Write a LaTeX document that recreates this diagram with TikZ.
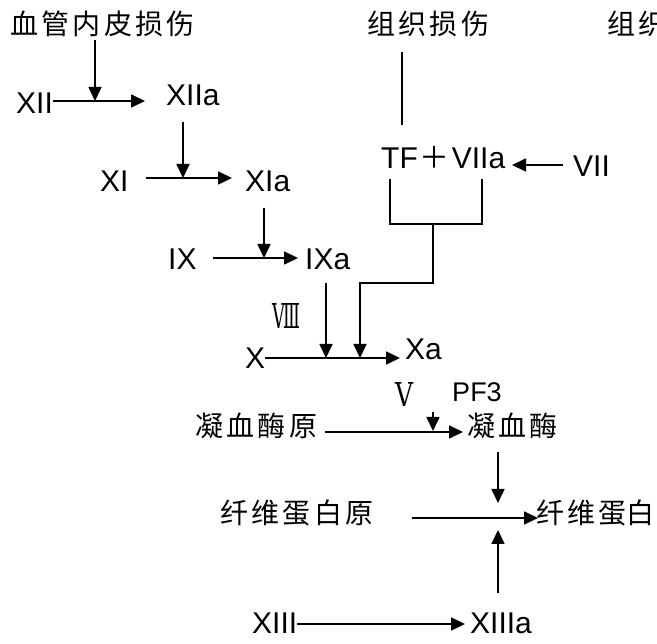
\documentclass[tikz,border=0pt]{standalone}
\usepackage{fontspec}
\setmainfont{Liberation Sans}
\newfontfamily\cjk[LetterSpace=12]{Noto Sans CJK SC}
\newfontfamily\cjkplain{Noto Sans CJK SC}
\newfontfamily\rmn{DejaVu Serif}
\usetikzlibrary{arrows.meta}
\begin{document}
\begin{tikzpicture}[x=1pt,y=-1pt,
  lat/.style={inner sep=0pt, anchor=west, font=\fontsize{30}{31}\selectfont},
  latsmall/.style={inner sep=0pt, font=\fontsize{27}{28}\selectfont},
  zh/.style={inner sep=0pt, anchor=west, font=\fontsize{28}{29}\selectfont\cjk},
  rnum/.style={inner sep=0pt, font=\rmn},
  ln/.style={line width=1.7pt},
  arr/.style={line width=1.7pt, -{Triangle[length=14pt,width=13pt]}}]
\clip (0,0) rectangle (657,644);
% text nodes
\node[zh] (vessel) at (10,24) {血管内皮损伤};
\node[zh] (tissue) at (367,24) {组织损伤};
\node[zh] (tissue2) at (607,24) {组织};
\node[lat] (XII) at (16,103) {XII};
\node[lat] (XIIa) at (166,95) {XIIa};
\node[lat] (XI) at (100,181) {XI};
\node[lat] (XIa) at (245,181) {XIa};
\node[lat] (IX) at (168,259) {IX};
\node[lat] (IXa) at (305,259) {IXa};
\node[lat] (TF) at (381,158) {TF\hspace{2pt}{\cjkplain ＋}\hspace{2pt}VIIa};
\node[lat] (VII) at (573,166) {VII};
\node[rnum] (VIII) at (286,316) {\resizebox{28pt}{25pt}{Ⅷ}};
\node[lat] (X) at (245,358) {X};
\node[lat] (Xa) at (405,349) {Xa};
\node[rnum] (V) at (404,395) {\resizebox{18pt}{24pt}{Ⅴ}};
\node[latsmall] (PF3) at (477,392) {PF3};
\node[zh] (pro) at (195,426) {凝血酶原};
\node[zh] (thr) at (467,426) {凝血酶};
\node[zh] (fgn) at (220,513) {纤维蛋白原};
\node[zh] (fib) at (536,513) {纤维蛋{\cjkplain 白}};
\node[lat] (XIII) at (252,623) {XIII};
\node[lat] (XIIIa) at (470,623) {XIIIa};
% junction coordinates
\coordinate (j1) at (95,101);
\coordinate (e1) at (145,101);
\coordinate (j2) at (183,178);
\coordinate (e2) at (232,178);
\coordinate (j3) at (264,258);
\coordinate (e3) at (298,258);
\coordinate (j4) at (326,358);
\coordinate (t1) at (402,125);
\coordinate (jv) at (512,165);
\coordinate (bl) at (390,224);
\coordinate (br) at (482,224);
\coordinate (bs) at (433,224);
\coordinate (bk) at (433,283);
\coordinate (j5) at (360,358);
\coordinate (e5) at (400,358);
\coordinate (j6s) at (433,412);
\coordinate (j6) at (433,431);
\coordinate (p1) at (325,432);
\coordinate (p2) at (463,432);
\coordinate (d1) at (498,452);
\coordinate (d2) at (498,503);
\coordinate (f1) at (412,518);
\coordinate (f2) at (538,518);
\coordinate (u1) at (498,593);
\coordinate (u2) at (498,530);
\coordinate (x2) at (465,624);
% connectors
\draw[arr, shorten <=3pt] (vessel.south -| j1) -- (j1);
\draw[arr] (XII.east |- j1) -- (e1);
\draw[arr, shorten <=16pt] (XIIa.south -| j2) -- (j2);
\draw[arr, shorten <=17pt] (XI.east |- j2) -- (e2);
\draw[arr, shorten <=16pt] (XIa.south -| j3) -- (j3);
\draw[arr, shorten <=16pt] (IX.east |- j3) -- (e3);
\draw[arr, shorten <=13pt] (IXa.south -| j4) -- (j4);
\draw[ln, shorten <=15pt] (tissue.south -| t1) -- (t1);
\draw[arr, shorten <=10pt] (VII.west |- jv) -- (jv);
\draw[ln, shorten <=10pt, shorten >=10pt] (TF.south -| bl) -- (bl) -- (br) -- (TF.south -| br);
\draw[arr] (bs) -- (bk) -- (bk -| j5) -- (j5);
\draw[arr] (X.east |- j4) -- (e5);
\draw[arr] (j6s) -- (j6);
\draw[arr] (p1) -- (p2);
\draw[arr] (d1) -- (d2);
\draw[arr] (f1) -- (f2);
\draw[arr] (u1) -- (u2);
\draw[arr] (XIII.east |- x2) -- (x2);
\end{tikzpicture}
\end{document}
